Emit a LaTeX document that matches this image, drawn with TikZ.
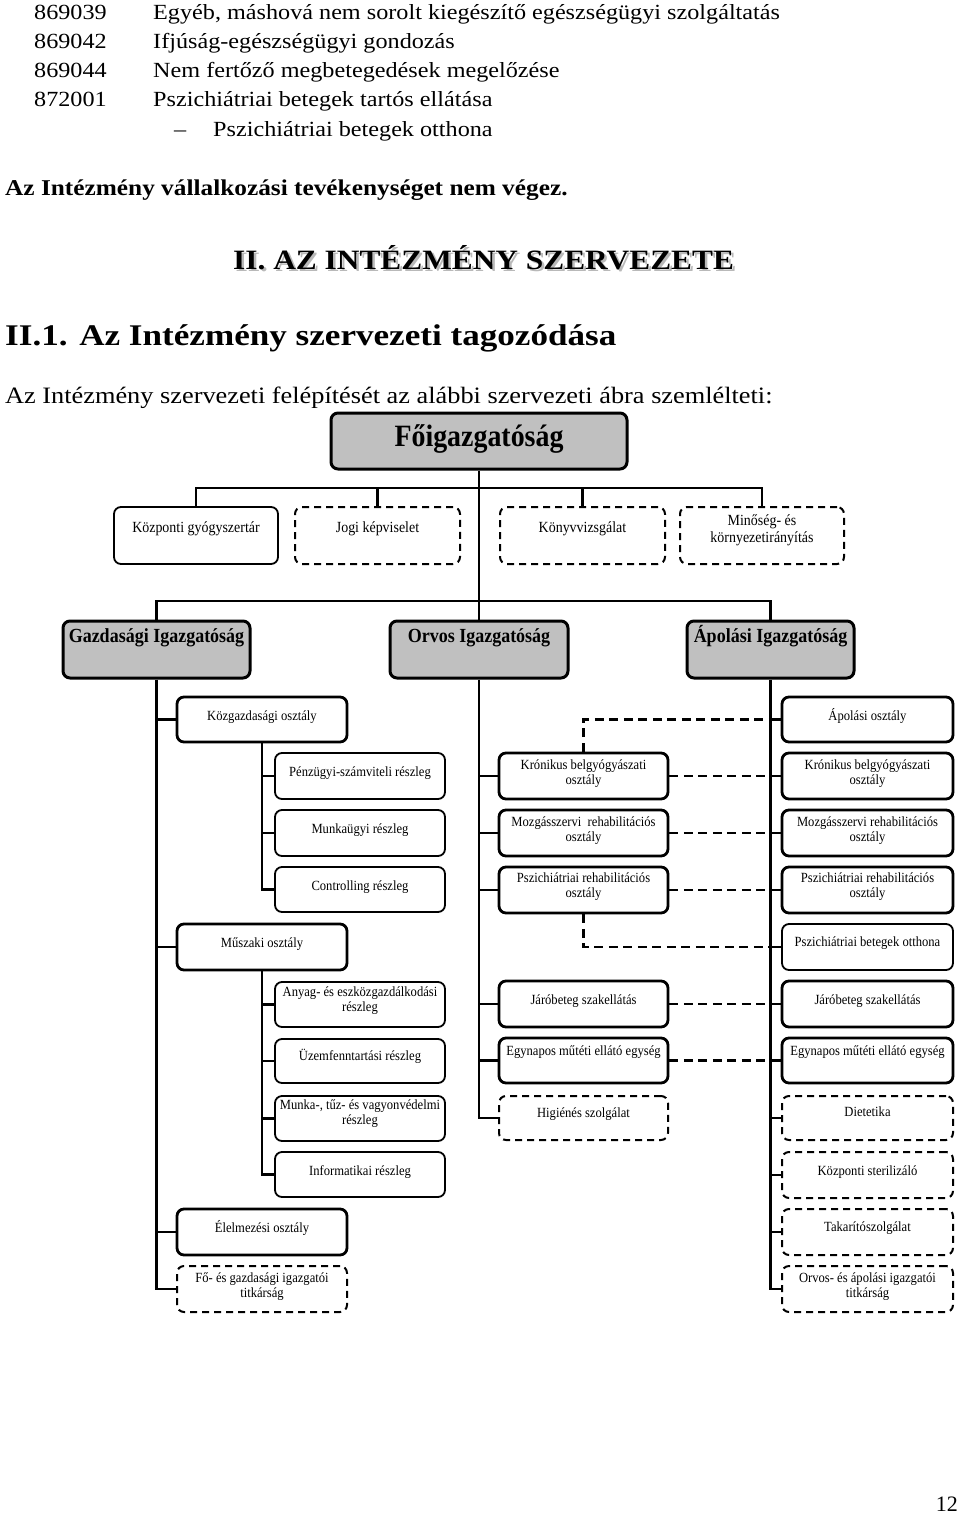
\documentclass[tikz,border=0pt]{standalone}
\usepackage{fontspec}
\setmainfont{Liberation Serif}
\newfontfamily\topfont{Liberation Serif}[FakeStretch=1.12]
\newfontfamily\headfont{Liberation Serif}[FakeStretch=1.17]
\newfontfamily\chartfont{Liberation Serif}[FakeStretch=0.9]
\definecolor{boxgray}{HTML}{C0C0C0}
\newcommand\bt[4]{\parbox[c][#1pt][t]{#2pt}{\centering\rule{0pt}{#3pt}#4\par}}
\begin{document}
\begin{tikzpicture}[x=1pt,y=-1pt,
  conn/.style={line width=2.6pt},
  dconn/.style={line width=2.8pt, dash pattern=on 9pt off 5.5pt},
  bbase/.style={rounded corners=7pt, inner sep=0pt, font=\chartfont\fontsize{14}{15}\selectfont},
  tbox/.style={bbase, draw, line width=2.8pt},
  nbox/.style={bbase, draw, line width=1.8pt},
  dbox/.style={bbase, draw, line width=2pt, dash pattern=on 7pt off 5pt},
  gbox/.style={bbase, draw, line width=3pt, fill=boxgray, font=\chartfont\bfseries\fontsize{20}{22}\selectfont},
  rowone/.style={font=\chartfont\fontsize{15.5}{17}\selectfont},
  txt/.style={anchor=base west, inner sep=0pt, font=\topfont\fontsize{21.6}{26}\selectfont},
]
\useasboundingbox (0,0) rectangle (960,1515);

% ---- top text ----
\node[txt] (c1) at (34,19.5) {869039};
\node[txt] (d1) at (153,19.5) {Egyéb, máshová nem sorolt kiegészítő egészségügyi szolgáltatás};
\node[txt] (c2) at (34,48.5) {869042};
\node[txt] (d2) at (153,48.5) {Ifjúság-egészségügyi gondozás};
\node[txt] (c3) at (34,77.5) {869044};
\node[txt] (d3) at (153,77.5) {Nem fertőző megbetegedések megelőzése};
\node[txt] (c4) at (34,106.5) {872001};
\node[txt] (d4) at (153,106.5) {Pszichiátriai betegek tartós ellátása};
\node[txt] (dash5) at (174,136) {–};
\node[txt] (d5) at (213,136) {Pszichiátriai betegek otthona};
\node[txt, font=\topfont\bfseries\fontsize{22.6}{26}\selectfont] (nv) at (5,195) {Az Intézmény vállalkozási tevékenységet nem végez.};
\node[txt, text=gray!55, font=\topfont\bfseries\fontsize{28}{32}\selectfont] (h1s) at (235.5,271.5) {II. AZ INTÉZMÉNY SZERVEZETE};
\node[txt, font=\topfont\bfseries\fontsize{28}{32}\selectfont] (h1) at (233,269) {II. AZ INTÉZMÉNY SZERVEZETE};
\node[txt, font=\headfont\bfseries\fontsize{30}{33}\selectfont] (h2) at (5,345) {II.1. Az Intézmény szervezeti tagozódása};
\node[txt, font=\topfont\fontsize{23.5}{27}\selectfont] (intro) at (5,403) {Az Intézmény szervezeti felépítését az alábbi szervezeti ábra szemlélteti:};

% ---- top level ----
\node[gbox, font=\chartfont\bfseries\fontsize{31}{33}\selectfont] (fo) at (479,441) {\bt{56}{296}{33}{Főigazgatóság}};

\node[nbox, rowone] (kgy) at (196,535.5) {\bt{57}{164}{25}{Központi gyógyszertár}};
\node[dbox, rowone] (jogi) at (377.5,535.5) {\bt{57}{165}{25}{Jogi képviselet}};
\node[dbox, rowone] (konyv) at (582.5,535.5) {\bt{57}{165}{25}{Könyvvizsgálat}};
\node[dbox, rowone] (mino) at (762,535.5) {\bt{57}{164}{18}{Minőség- és\\környezetirányítás}};

\node[gbox] (gaz) at (156.5,649.5) {\bt{57}{187}{21}{Gazdasági Igazgatóság}};
\node[gbox] (orv) at (479,649.5) {\bt{57}{178}{21}{Orvos Igazgatóság}};
\node[gbox] (apl) at (770.5,649.5) {\bt{57}{167}{21}{Ápolási Igazgatóság}};

% ---- Gazdasági ----
\node[tbox] (kozg) at (262,719.5) {\bt{45}{170}{23}{Közgazdasági osztály}};
\node[nbox] (penz) at (360,776) {\bt{46}{170}{23}{Pénzügyi-számviteli részleg}};
\node[nbox] (munk) at (360,833) {\bt{46}{170}{23}{Munkaügyi részleg}};
\node[nbox] (contr) at (360,889.5) {\bt{45}{170}{23}{Controlling részleg}};
\node[tbox] (musz) at (262,947) {\bt{46}{170}{23}{Műszaki osztály}};
\node[nbox] (anyag) at (360,1004.5) {\bt{45}{170}{14}{Anyag- és eszközgazdálkodási\\részleg}};
\node[nbox] (uzem) at (360,1061) {\bt{44}{170}{21}{Üzemfenntartási részleg}};
\node[nbox] (vedel) at (360,1118.5) {\bt{45}{170}{13}{Munka-, tűz- és vagyonvédelmi\\részleg}};
\node[nbox] (info) at (360,1174.5) {\bt{45}{170}{23}{Informatikai részleg}};
\node[tbox] (elel) at (262,1232) {\bt{46}{170}{23}{Élelmezési osztály}};
\node[dbox] (fotit) at (262,1289) {\bt{46}{170}{16}{Fő- és gazdasági igazgatói\\titkárság}};

% ---- Orvos ----
\node[tbox] (okron) at (583.5,776) {\bt{46}{169}{16}{Krónikus belgyógyászati\\osztály}};
\node[tbox] (omozg) at (583.5,833) {\bt{46}{169}{16}{Mozgásszervi\ \ rehabilitációs\\osztály}};
\node[tbox] (opszi) at (583.5,890) {\bt{46}{169}{15}{Pszichiátriai rehabilitációs\\osztály}};
\node[tbox] (ojaro) at (583.5,1004) {\bt{46}{169}{23}{Járóbeteg szakellátás}};
\node[tbox] (oegy) at (583.5,1060.5) {\bt{45}{169}{17}{Egynapos műtéti ellátó egység}};
\node[dbox] (ohig) at (583.5,1118) {\bt{44}{169}{21}{Higiénés szolgálat}};

% ---- Ápolási ----
\node[tbox] (apo) at (867.5,719.5) {\bt{45}{171}{23}{Ápolási osztály}};
\node[tbox] (akron) at (867.5,776) {\bt{46}{171}{16}{Krónikus belgyógyászati\\osztály}};
\node[tbox] (amozg) at (867.5,833) {\bt{46}{171}{16}{Mozgásszervi rehabilitációs\\osztály}};
\node[tbox] (apszi) at (867.5,890) {\bt{46}{171}{15}{Pszichiátriai rehabilitációs\\osztály}};
\node[nbox] (aotth) at (867.5,947) {\bt{46}{171}{22}{Pszichiátriai betegek otthona}};
\node[tbox] (ajaro) at (867.5,1004) {\bt{46}{171}{23}{Járóbeteg szakellátás}};
\node[tbox] (aegy) at (867.5,1060.5) {\bt{45}{171}{17}{Egynapos műtéti ellátó egység}};
\node[dbox] (adiet) at (867.5,1118) {\bt{44}{171}{20}{Dietetika}};
\node[dbox] (aster) at (867.5,1175) {\bt{46}{171}{23}{Központi sterilizáló}};
\node[dbox] (atak) at (867.5,1232) {\bt{46}{171}{22}{Takarítószolgálat}};
\node[dbox] (aotit) at (867.5,1289) {\bt{46}{171}{16}{Orvos- és ápolási igazgatói\\titkárság}};

% ---- page number ----
\node[anchor=base east, inner sep=0pt, font=\fontsize{22}{26}\selectfont] (pg) at (958,1511) {12};

% ---- connectors ----
\coordinate (bar1) at (479,488);
\coordinate (bar2) at (479,601);
\draw[conn] (fo.south) -- (orv.north);
\draw[conn] (kgy.north) |- (bar1) -| (mino.north);
\draw[conn] (jogi.north) |- (bar1);
\draw[conn] (konyv.north) |- (bar1);
\draw[conn] (gaz.north) |- (bar2) -| (apl.north);

\draw[conn] (gaz.south) |- (fotit.west);
\foreach \n in {kozg,musz,elel} \draw[conn] (gaz.south |- \n.west) -- (\n.west);
\draw[conn] (kozg.south) |- (contr.west);
\foreach \n in {penz,munk} \draw[conn] (kozg.south |- \n.west) -- (\n.west);
\draw[conn] (musz.south) |- (info.west);
\foreach \n in {anyag,uzem,vedel} \draw[conn] (musz.south |- \n.west) -- (\n.west);

\draw[conn] (orv.south) |- (ohig.west);
\foreach \n in {okron,omozg,opszi,ojaro,oegy} \draw[conn] (orv.south |- \n.west) -- (\n.west);

\draw[conn] (apl.south) |- (aotit.west);
\foreach \n in {apo,akron,amozg,apszi,aotth,ajaro,aegy,adiet,aster,atak} \draw[conn] (apl.south |- \n.west) -- (\n.west);

% dashed links
\draw[dconn] (okron.north) |- (apo.west -| apl.south);
\draw[dconn] (okron.east) -- (akron.west -| apl.south);
\draw[dconn] (omozg.east) -- (amozg.west -| apl.south);
\draw[dconn] (opszi.east) -- (apszi.west -| apl.south);
\draw[dconn] (opszi.south) |- (aotth.west -| apl.south);
\draw[dconn] (ojaro.east) -- (ajaro.west -| apl.south);
\draw[dconn] (oegy.east) -- (aegy.west -| apl.south);
\end{tikzpicture}
\end{document}
